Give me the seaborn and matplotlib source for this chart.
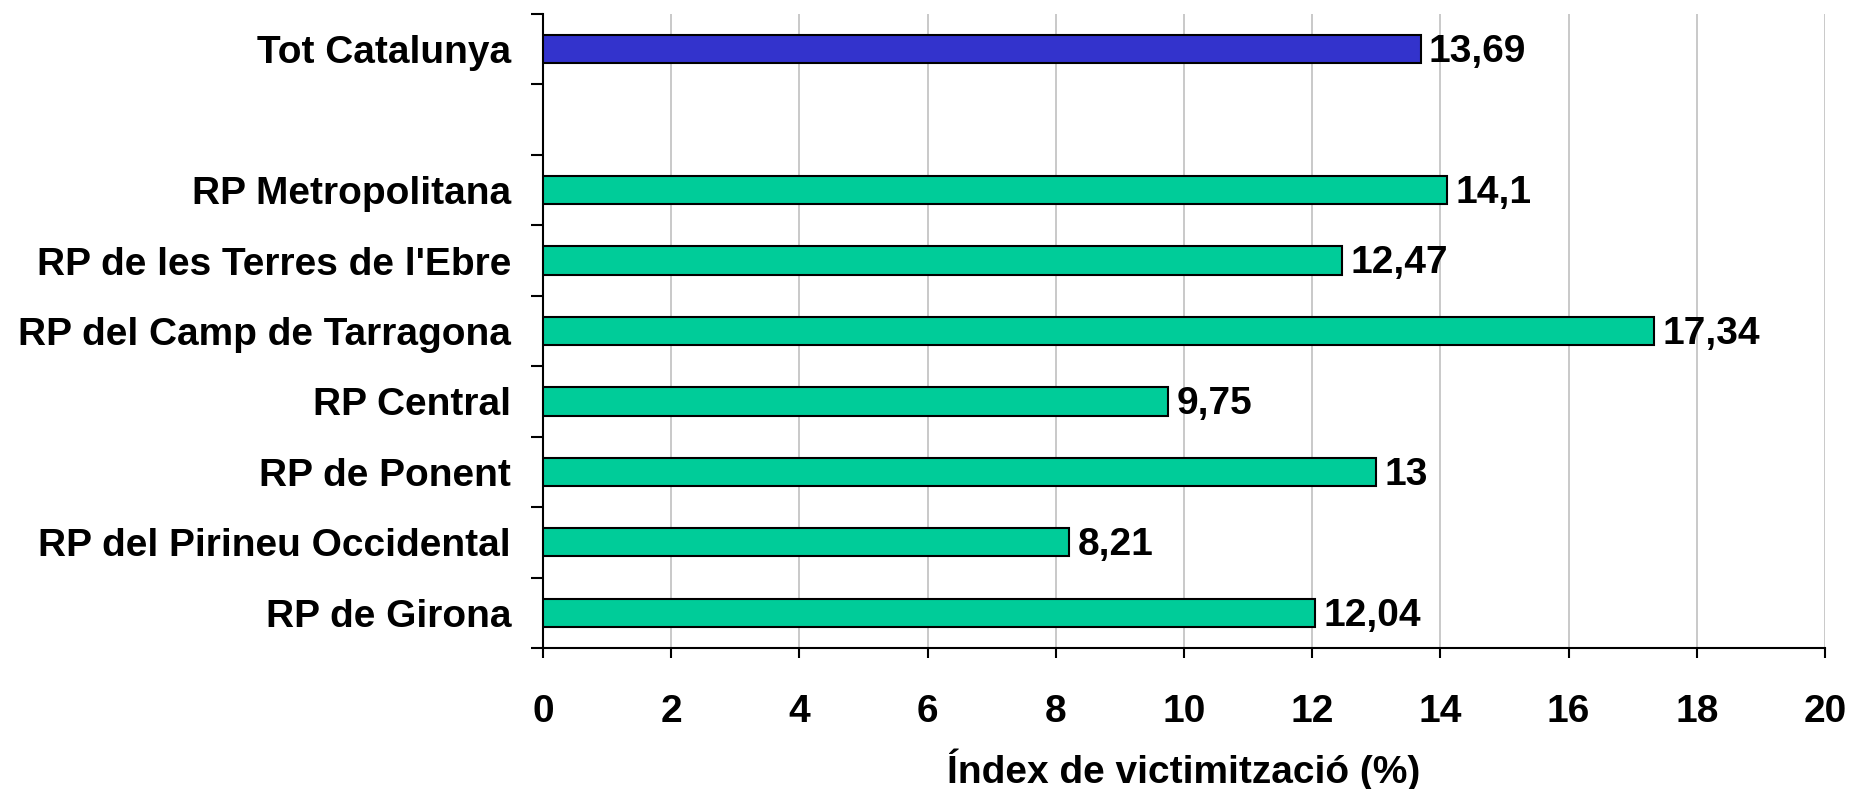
import numpy as np
import pandas as pd
import matplotlib
matplotlib.use("Agg")
import matplotlib.pyplot as plt
import seaborn as sns
from matplotlib.ticker import FixedLocator, MultipleLocator

# Data
regions = [
    "Tot Catalunya",
    "RP Metropolitana",
    "RP de les Terres de l'Ebre",
    "RP del Camp de Tarragona",
    "RP Central",
    "RP de Ponent",
    "RP del Pirineu Occidental",
    "RP de Girona",
]
victim_index = [13.69, 14.1, 12.47, 17.34, 9.75, 13.0, 8.21, 12.04]
# blank slot between the total and the regions
order = ["Tot Catalunya", " "] + regions[1:]

sns.set_theme(style="white")
plt.rcParams['font.family'] = ['Liberation Sans', 'DejaVu Sans']
plt.rcParams['font.weight'] = 'bold'
plt.rcParams['text.color'] = 'black'
plt.rcParams['xtick.color'] = 'black'
plt.rcParams['ytick.color'] = 'black'
plt.rcParams['axes.labelcolor'] = 'black'

FS = 28

df = pd.DataFrame({'Regio': regions, 'Index': victim_index})
palette = {r: '#00CC99' for r in regions}
palette["Tot Catalunya"] = '#3333CC'

fig = plt.figure(figsize=(18.5, 7.89), dpi=100)
ax = fig.add_axes([543 / 1850, 1 - 648 / 789, (1825 - 543) / 1850, (648 - 14) / 789])

sns.barplot(data=df, x='Index', y='Regio', hue='Regio', order=order, palette=palette,
            orient='h', width=0.4, saturation=1, edgecolor='black', linewidth=1.5,
            legend=False, ax=ax, zorder=3)

# value labels with comma decimals
for r, v in zip(regions, victim_index):
    ypos = order.index(r)
    ax.annotate(f"{v:g}".replace('.', ','), (v, ypos), xytext=(6, -2),
                textcoords='offset points', ha='left', va='center',
                fontsize=FS, fontweight='bold', color='black')

ax.set_xlim(0, 20)
ax.set_ylim(len(order) - 0.5, -0.5)
ax.xaxis.set_major_locator(MultipleLocator(2))
ax.grid(axis='x', color='#C0C0C0', linewidth=1.2, zorder=0)
ax.grid(axis='y', visible=False)
ax.set_axisbelow(True)

for s in ['top', 'right']:
    ax.spines[s].set_visible(False)
for s in ['left', 'bottom']:
    ax.spines[s].set_color('black')
    ax.spines[s].set_linewidth(1.5)

ax.yaxis.set_minor_locator(FixedLocator(np.arange(-0.5, len(order), 1.0)))
ax.tick_params(axis='y', which='major', length=0, pad=23, labelsize=FS)
ax.tick_params(axis='y', which='minor', length=9, width=1.5, color='black', direction='out', left=True)
ax.tick_params(axis='x', which='major', length=7, width=1.5, color='black', direction='out',
               bottom=True, pad=26, labelsize=FS)
for lab in ax.get_xticklabels() + ax.get_yticklabels():
    lab.set_fontweight('bold')

ax.set_ylabel('')
ax.set_xlabel("Índex de victimització (%)", fontsize=FS, fontweight='bold')
ax.xaxis.set_label_coords(0.5, -0.159)
ax.xaxis.label.set_va('top')

fig.savefig("out.png", dpi=100)
